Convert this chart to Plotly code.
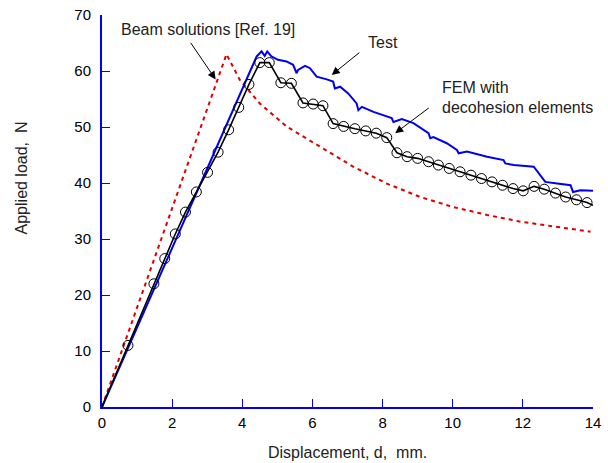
import plotly.graph_objects as go

# ---- data ----
test_x = [0.0, 4.41, 4.55, 4.64, 4.71, 4.83, 5.02, 5.26, 5.45, 5.55, 5.59, 5.79, 5.93, 6.12,
          6.41, 6.59, 6.64, 6.79, 7.02, 7.26, 7.31, 7.41, 7.74, 8.12, 8.26, 8.31, 8.55,
          8.88, 9.17, 9.31, 9.36, 9.45, 9.83, 10.12, 10.17, 10.41, 10.98, 11.45, 11.50,
          11.74, 12.31, 12.45, 12.64, 12.98, 13.36, 13.43, 13.64, 14.0]
test_y = [0.0, 62.6, 63.5, 62.7, 63.5, 62.6, 62.0, 61.7, 61.1, 59.6, 60.2, 60.9, 60.5, 59.0,
          58.5, 58.1, 56.9, 57.2, 56.0, 54.2, 53.0, 53.6, 52.7, 51.8, 51.6, 50.9, 51.4,
          50.7, 49.5, 48.9, 48.0, 48.2, 47.1, 45.9, 45.3, 45.6, 44.7, 44.1, 43.5,
          43.2, 42.9, 41.7, 40.2, 39.9, 39.6, 38.4, 38.7, 38.6]

fem_x = [0.74, 1.48, 1.79, 2.09, 2.38, 2.69, 3.01, 3.31, 3.61, 3.90, 4.19, 4.50, 4.77,
         5.10, 5.40, 5.73, 6.02, 6.30, 6.59, 6.89, 7.21, 7.52, 7.82, 8.12, 8.41, 8.70,
         9.00, 9.31, 9.59, 9.90, 10.21, 10.52, 10.82, 11.12, 11.42, 11.72, 12.01, 12.32,
         12.61, 12.93, 13.22, 13.53, 13.83]
fem_y = [11.0, 22.0, 26.5, 30.9, 34.8, 38.4, 41.9, 45.5, 49.5, 53.5, 57.6, 61.5, 61.5,
         57.9, 57.8, 54.3, 54.1, 53.8, 50.6, 50.1, 49.7, 49.3, 48.9, 48.1, 45.4, 44.7,
         44.4, 43.8, 43.2, 42.6, 42.0, 41.4, 40.8, 40.2, 39.6, 39.0, 38.6, 39.4,
         38.9, 38.2, 37.5, 37.0, 36.5]
fem_start = (0.0, 0.0)
fem_end = (14.0, 36.0)

beam_x = [0.0, 3.55, 3.93, 4.50, 5.26, 6.21, 7.17, 8.12, 9.07, 10.02, 10.98, 11.93, 12.88, 13.93]
beam_y = [0.0, 63.0, 58.4, 54.2, 50.1, 46.5, 42.9, 39.9, 37.5, 35.7, 34.3, 33.1, 32.2, 31.3]

x_ticks = [0, 2, 4, 6, 8, 10, 12, 14]
y_ticks = [0, 10, 20, 30, 40, 50, 60, 70]

FONT = "Arial, Liberation Sans, sans-serif"
BLUE = "#0000ee"

fig = go.Figure()
fig.add_trace(go.Scatter(x=beam_x, y=beam_y, mode="lines",
                         line=dict(color="#dd0000", width=2, dash="4px,4px"),
                         hoverinfo="skip"))
fig.add_trace(go.Scatter(x=test_x, y=test_y, mode="lines",
                         line=dict(color=BLUE, width=2), hoverinfo="skip"))
fig.add_trace(go.Scatter(x=[fem_start[0]] + fem_x + [fem_end[0]],
                         y=[fem_start[1]] + fem_y + [fem_end[1]], mode="lines",
                         line=dict(color="black", width=1.6), hoverinfo="skip"))
fig.add_trace(go.Scatter(x=fem_x, y=fem_y, mode="markers",
                         marker=dict(symbol="circle-open", size=10, color="black",
                                     line=dict(width=1, color="black")),
                         hoverinfo="skip"))

axis_common = dict(showline=True, linecolor=BLUE, linewidth=2, mirror=False,
                   ticks="inside", tickcolor=BLUE, ticklen=8, tickwidth=1,
                   showgrid=False, zeroline=False, ticklabeloverflow="allow",
                   automargin=False,
                   tickfont=dict(family=FONT, size=15, color="black"))

fig.update_layout(
    width=608, height=463,
    margin=dict(l=102, r=15, t=15, b=56, autoexpand=False),
    paper_bgcolor="white", plot_bgcolor="white",
    showlegend=False,
    xaxis=dict(range=[0, 14], tickvals=x_ticks, ticklabelstandoff=1, **axis_common),
    yaxis=dict(range=[0, 70], tickvals=y_ticks, ticklabelstandoff=6, **axis_common),
)

arrows = [
    (3.24, 58.5, 2.50, 65.3),
    (6.55, 59.3, 7.38, 63.5),
    (8.36, 48.9, 9.36, 53.6),
]
for hx, hy, tx, ty in arrows:
    fig.add_annotation(x=hx, y=hy, ax=tx, ay=ty, xref="x", yref="y", axref="x", ayref="y",
                       text="", showarrow=True, arrowhead=2, arrowsize=1.6,
                       arrowwidth=1, arrowcolor="black")

texts = [
    ("Beam solutions [Ref. 19]", 0.0346, 0.962, "left"),
    ("Test", 0.5723, 0.931, "center"),
    ("FEM with", 0.688, 0.8138, "left"),
    ("decohesion elements", 0.688, 0.7653, "left"),
]
for t, px, py, anc in texts:
    fig.add_annotation(text=t, x=px, y=py, xref="paper", yref="paper",
                       xanchor=anc, yanchor="middle", showarrow=False,
                       font=dict(family=FONT, size=16, color="#222222"))

fig.add_annotation(text="Displacement, d,  mm.", x=0.501, y=-0.1148, xref="paper", yref="paper",
                   xanchor="center", yanchor="middle", showarrow=False,
                   font=dict(family=FONT, size=16, color="#222222"))
fig.add_annotation(text="Applied load,  N", x=-0.163, y=0.5855, xref="paper", yref="paper",
                   xanchor="center", yanchor="middle", showarrow=False, textangle=-90,
                   font=dict(family=FONT, size=16, color="#222222"))

# remove the browser's default 8px body margin so the figure fills the window exactly
fig.write_html("out.html",
               config={"displayModeBar": False},
               post_script="document.body.style.margin='0';document.body.style.overflow='hidden';")
